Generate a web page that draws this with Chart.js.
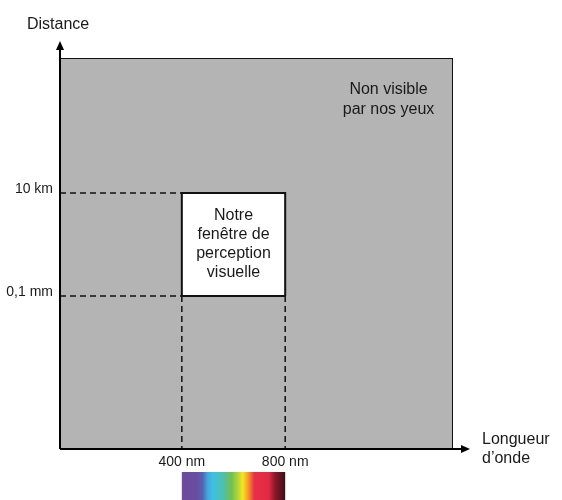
<!DOCTYPE html>
<html>
<head>
<meta charset="utf-8">
<script src="https://cdn.jsdelivr.net/npm/chart.js@4"></script>
<style>
  html, body { margin: 0; padding: 0; background: #fff; }
  #wrap { width: 562px; height: 500px; }
</style>
</head>
<body>
<div id="wrap"><canvas id="grafica"></canvas></div>
<script>
// axes run 0..100 (arbitrary units, only the marked ticks matter)
const xTickPos = [31, 57.3];
const xTickLabels = ['400 nm', '800 nm'];
const yTickPos = [39.1, 65.5];
const yTickLabels = ['0,1 mm', '10 km'];
const boxLines = ['Notre', 'fenêtre de', 'perception', 'visuelle'];
const outsideLines = ['Non visible', 'par nos yeux'];
const outsidePos = [83.6, 92];
// colour stops of the visible spectrum strip (0 = 400 nm, 1 = 800 nm)
const spectrumStops = [0, 0.14, 0.2, 0.25, 0.3, 0.4, 0.48, 0.55, 0.59, 0.64, 0.7, 0.84, 0.9, 1];
const spectrumColors = ['#6c4a9c', '#6a4c9e', '#5462b2', '#45a6dc', '#3ec2e2', '#4cbfb0', '#72c04e',
  '#b8d83c', '#f6e61e', '#f2a022', '#e8304a', '#e02a44', '#901828', '#3a0f16'];

const font = '"Liberation Sans", Arial, sans-serif';

const [x1, x2] = xTickPos;
const [y1, y2] = yTickPos;

const dashed = {
  borderColor: '#111',
  borderWidth: 1.5,
  borderDash: [6, 4],
  pointRadius: 0,
  showLine: true,
  fill: false
};

const extras = {
  id: 'extras',
  afterDatasetsDraw(chart) {
    const c = chart.ctx;
    const xs = chart.scales.x, ys = chart.scales.y;
    const a = chart.chartArea;
    c.save();
    // axes with arrows
    c.strokeStyle = '#000';
    c.fillStyle = '#000';
    c.lineWidth = 2;
    c.beginPath();
    c.moveTo(a.left, a.bottom);
    c.lineTo(a.left, a.top - 12);
    c.moveTo(a.left, a.bottom);
    c.lineTo(a.right + 12, a.bottom);
    c.stroke();
    c.beginPath();
    c.moveTo(a.left, a.top - 17);
    c.lineTo(a.left - 4, a.top - 8);
    c.lineTo(a.left + 4, a.top - 8);
    c.closePath();
    c.fill();
    c.beginPath();
    c.moveTo(a.right + 17, a.bottom);
    c.lineTo(a.right + 8, a.bottom - 4);
    c.lineTo(a.right + 8, a.bottom + 4);
    c.closePath();
    c.fill();

    // texts
    c.fillStyle = '#1a1a1a';
    c.font = '16px ' + font;
    c.textBaseline = 'middle';
    c.textAlign = 'left';
    c.fillText('Distance', 27, 25);
    c.fillText('Longueur', a.right + 29, 440);
    c.fillText('d\u2019onde', a.right + 29, 459);

    c.textAlign = 'center';
    const bx = (xs.getPixelForValue(x1) + xs.getPixelForValue(x2)) / 2;
    const by = (ys.getPixelForValue(y1) + ys.getPixelForValue(y2)) / 2;
    boxLines.forEach((t, i) => c.fillText(t, bx, by + (i - 1.5) * 19));
    const ox = xs.getPixelForValue(outsidePos[0]);
    const oy = ys.getPixelForValue(outsidePos[1]);
    outsideLines.forEach((t, i) => c.fillText(t, ox, oy + i * 20));

    // spectrum strip under the visible window
    const sx1 = xs.getPixelForValue(x1), sx2 = xs.getPixelForValue(x2);
    const g = c.createLinearGradient(sx1, 0, sx2, 0);
    spectrumColors.forEach((col, i) => g.addColorStop(spectrumStops[i], col));
    c.fillStyle = g;
    c.fillRect(sx1, a.bottom + 23, sx2 - sx1, 30);
    c.restore();
  }
};

new Chart(document.getElementById('grafica'), {
  type: 'scatter',
  data: {
    datasets: [
      Object.assign({data: [{x: 0, y: y2}, {x: x1, y: y2}]}, dashed),
      Object.assign({data: [{x: x1, y: y1}, {x: x1, y: 0}]}, dashed),
      Object.assign({data: [{x: x2, y: y1}, {x: x2, y: 0}]}, dashed),
      Object.assign({data: [{x: 0, y: y1}, {x: x1, y: y1}]}, dashed),
      {
        label: 'Fenêtre bord',
        data: [{x: x1, y: y1}, {x: x2, y: y1}],
        showLine: true,
        pointRadius: 0,
        borderColor: '#111',
        borderWidth: 2,
        fill: false
      },
      {
        label: 'Fenêtre',
        data: [{x: x1, y: y1}, {x: x1, y: y2}, {x: x2, y: y2}, {x: x2, y: y1}],
        showLine: true,
        pointRadius: 0,
        borderColor: '#111',
        borderWidth: 2,
        backgroundColor: '#ffffff',
        fill: {value: y1}
      },
      {
        label: 'Non visible',
        data: [{x: 0, y: 100}, {x: 100, y: 100}, {x: 100, y: 0}],
        showLine: true,
        pointRadius: 0,
        borderColor: '#111',
        borderWidth: 2,
        backgroundColor: '#b4b4b4',
        fill: 'origin'
      }
    ]
  },
  options: {
    responsive: true,
    maintainAspectRatio: false,
    animation: false,
    layout: { padding: { top: 58, right: 109, left: 0, bottom: 0 } },
    plugins: {
      legend: { display: false },
      tooltip: { enabled: false }
    },
    scales: {
      x: {
        type: 'linear',
        min: 0,
        max: 100,
        grid: { display: false, drawTicks: false },
        border: { display: false },
        afterBuildTicks: s => { s.ticks = xTickPos.map(v => ({value: v})); },
        afterFit: s => { s.height = 51; },
        ticks: {
          autoSkip: false,
          maxRotation: 0,
          padding: 5,
          color: '#1a1a1a',
          font: { family: font, size: 14 },
          callback: v => xTickLabels[xTickPos.indexOf(v)]
        }
      },
      y: {
        type: 'linear',
        min: 0,
        max: 100,
        grid: { display: false, drawTicks: false },
        border: { display: false },
        afterBuildTicks: s => { s.ticks = yTickPos.map(v => ({value: v})); },
        afterFit: s => { s.width = 60; },
        ticks: {
          autoSkip: false,
          padding: 7,
          labelOffset: -4,
          color: '#1a1a1a',
          font: { family: font, size: 14 },
          callback: v => yTickLabels[yTickPos.indexOf(v)]
        }
      }
    }
  },
  plugins: [extras]
});
</script>
</body>
</html>
